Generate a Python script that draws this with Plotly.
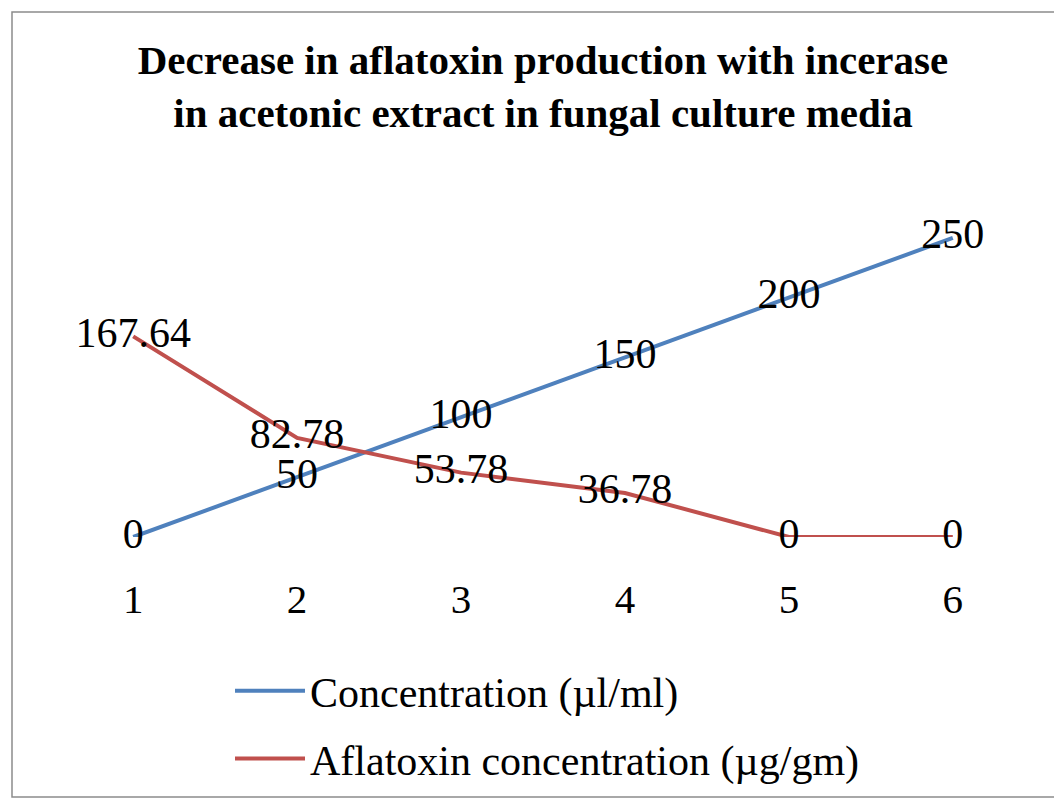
import plotly.graph_objects as go

# --- data ----------------------------------------------------------------- #
points = [1, 2, 3, 4, 5, 6]
concentration = [0, 50, 100, 150, 200, 250]          # µl/ml
aflatoxin = [167.64, 82.78, 53.78, 36.78, 0, 0]      # µg/gm
series_names = ["Concentration (µl/ml)", "Aflatoxin concentration (µg/gm)"]
title_text = ("Decrease in aflatoxin production with incerase<br>"
              "in acetonic extract in fungal culture media")

BLUE = "#4F81BD"
RED = "#C0504D"
SERIF = "Liberation Serif, Times New Roman, serif"

# page body adds an 8px offset, so targets are shifted back by it
OFF = 8
W, H = 1062, 803
L, R, T, B = 125 - OFF, 101 + OFF, 178 - OFF, 266 + OFF
pw, ph = W - L - R, H - T - B


def px_x(p):
    return (p - OFF - L) / pw


def px_y(p):
    return (H - B - (p - OFF)) / ph


fig = go.Figure()
for name, vals, color in [(series_names[0], concentration, BLUE),
                          (series_names[1], aflatoxin, RED)]:
    fig.add_trace(go.Scatter(
        x=points, y=vals, name=name, legendgroup=name,
        mode="lines+text",
        line=dict(color=color, width=4),
        text=[f"{v:g}" for v in vals],
        textposition="middle center",
        textfont=dict(family=SERIF, size=42, color="#000000"),
        cliponaxis=False,
    ))

fig.update_layout(
    width=W, height=H,
    margin=dict(l=L, r=R, t=T, b=B),
    paper_bgcolor="white", plot_bgcolor="white",
    title=dict(text=title_text, x=(543 - OFF) / W, xanchor="center",
               y=1 - 66 / H, yanchor="top",
               font=dict(family=SERIF, size=41, color="#000000", weight="bold")),
    xaxis=dict(range=[0.95, 6.05], tickvals=points, showgrid=False,
               zeroline=False, showline=False, ticks="outside", ticklen=26,
               tickcolor="rgba(0,0,0,0)",
               tickfont=dict(family=SERIF, size=41, color="#000000")),
    yaxis=dict(range=[0, 300], visible=False),
    legend=dict(x=px_x(230), y=px_y(657), xanchor="left", yanchor="top",
                font=dict(family=SERIF, size=42, color="#000000"),
                tracegroupgap=10, itemwidth=70, bgcolor="rgba(0,0,0,0)"),
    showlegend=True,
)

# chart border
fig.add_shape(type="rect", xref="paper", yref="paper",
              x0=px_x(12), x1=px_x(1075), y0=px_y(797), y1=px_y(12),
              line=dict(color="#8C8C8C", width=1.5), layer="below")

fig.write_html("out.html")
